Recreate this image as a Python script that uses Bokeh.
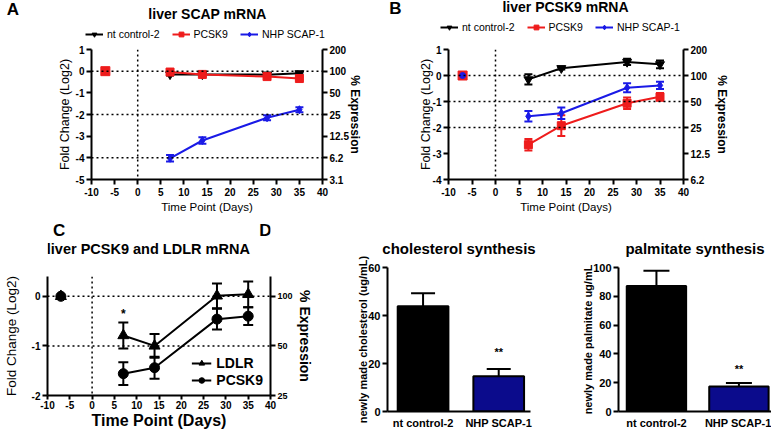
from bokeh.plotting import figure
from bokeh.models import (ColumnDataSource, Range1d, LinearAxis, FixedTicker, Whisker, TeeHead,
                          Span, Legend, LegendItem)
from bokeh.layouts import row, column
from bokeh.embed import file_html
from bokeh.resources import INLINE
from bokeh.core.properties import value

FONT = "Liberation Sans"
NAN = float("nan")

# ---------------- data ----------------
days = [7, 14, 28, 35]
baseline_day = [-7]
baseline_val = [0]
x_ticks = [-10, -5, 0, 5, 10, 15, 20, 25, 30, 35, 40]
x_tick_labels = ["-10", "-5", "0", "5", "10", "15", "20", "25", "30", "35", "40"]

series_names = ["nt control-2", "PCSK9", "NHP SCAP-1"]

a_nt = [-0.15, -0.15, -0.16, -0.10]
a_nt_err = [0.05, 0.04, 0.05, 0.05]
a_pcsk9 = [-0.04, -0.15, -0.25, -0.34]
a_pcsk9_err = [0.05, 0.04, 0.05, 0.06]
a_scap = [-4.02, -3.20, -2.15, -1.78]
a_scap_err = [0.15, 0.15, 0.12, 0.12]
a_left_ticks = [1, 0, -1, -2, -3, -4, -5]
a_left_labels = ["1", "0", "-1", "-2", "-3", "-4", "-5"]
a_right_labels = ["200", "100", "50", "25", "12.5", "6.2", "3.1"]
a_dotted = [0, -2, -4]

b_nt = [-0.15, 0.28, 0.52, 0.43]
b_nt_err = [0.20, 0.05, 0.12, 0.15]
b_pcsk9 = [-2.66, -1.93, -1.07, -0.82]
b_pcsk9_err = [0.22, 0.40, 0.22, 0.15]
b_scap = [-1.57, -1.45, -0.47, -0.38]
b_scap_err = [0.20, 0.22, 0.17, 0.14]
b_left_ticks = [1, 0, -1, -2, -3, -4]
b_left_labels = ["1", "0", "-1", "-2", "-3", "-4"]
b_right_labels = ["200", "100", "50", "25", "12.5", "6.2"]
b_dotted = [0, -1, -2]

c_names = ["LDLR", "PCSK9"]
c_ldlr = [-0.79, -1.00, 0.01, 0.04]
c_ldlr_err = [0.26, 0.24, 0.25, 0.26]
c_pcsk9 = [-1.56, -1.44, -0.46, -0.40]
c_pcsk9_err = [0.23, 0.22, 0.21, 0.18]
c_left_ticks = [0, -1, -2]
c_left_labels = ["0", "-1", "-2"]
c_right_labels = ["100", "50", "25"]
c_dotted = [0, -1]
c_star_day = [7]
c_star_y = [-0.36]

d_groups = ["nt control-2", "NHP SCAP-1"]
d_colors = ["#000000", "#0b0b8c"]
d_chol = [43.9, 14.7]
d_chol_err = [5.4, 3.0]
d_chol_sig = ["", "**"]
d_chol_sig_y = [0, 25]
d_palm = [87.1, 17.3]
d_palm_err = [10.7, 2.5]
d_palm_sig = ["", "**"]
d_palm_sig_y = [0, 29.5]
d_chol_ticks = [0, 20, 40, 60]
d_palm_ticks = [0, 20, 40, 60, 80, 100]

RED = "#ee1c1c"
BLUE = "#1a1ae6"


# ---------------- helpers ----------------
def base_fig(width, height, fl, fr, ft, fb, x_range, y_range):
    p = figure(width=width, height=height, x_range=x_range, y_range=y_range,
               output_backend="svg", toolbar_location=None,
               min_border_left=fl, min_border_right=width - fr,
               min_border_top=ft, min_border_bottom=height - fb)
    p.xgrid.visible = False
    p.ygrid.visible = False
    p.outline_line_color = None
    return p


def header(width, height):
    h = figure(width=width, height=height, x_range=Range1d(0, width),
               y_range=Range1d(height, 0), output_backend="svg", toolbar_location=None,
               x_axis_location=None, y_axis_location=None, min_border=0)
    h.xgrid.visible = False
    h.ygrid.visible = False
    h.outline_line_color = None
    return h


def htext(h, xs, ys, texts, size, style="bold"):
    h.text(xs, ys, text=texts, text_font=value(FONT), text_font_size=f"{size}px",
           text_font_style=style, text_align="center", text_baseline="middle",
           text_color="black")


def style_axis(ax, tick_size, label_size, label_style="normal", tick_out=5,
               standoff=2, label_standoff=2, ticks=True):
    ax.axis_line_color = "black"
    ax.axis_line_width = 2
    if ticks:
        ax.major_tick_line_color = "black"
        ax.major_tick_line_width = 2
        ax.major_tick_in = 0
        ax.major_tick_out = tick_out
    else:
        ax.major_tick_line_color = None
        ax.major_tick_in = 0
        ax.major_tick_out = 0
    ax.minor_tick_line_color = None
    ax.major_label_text_font = FONT
    ax.major_label_text_font_size = f"{tick_size}px"
    ax.major_label_text_font_style = "bold"
    ax.major_label_text_color = "black"
    ax.major_label_standoff = standoff
    ax.axis_label_text_font = FONT
    ax.axis_label_text_font_size = f"{label_size}px"
    ax.axis_label_text_font_style = label_style
    ax.axis_label_text_color = "black"
    ax.axis_label_standoff = label_standoff


def dotted(p, levels):
    for lv in levels:
        p.add_layout(Span(location=lv, dimension="width", line_color="black",
                          line_width=1.5, line_dash="2 3"))
    p.add_layout(Span(location=0, dimension="height", line_color="black",
                      line_width=1.5, line_dash="2 3"))


def series(p, xs, ys, errs, color, marker, size, cap=8):
    src = ColumnDataSource(dict(x=xs, y=ys,
                                lo=[y - e for y, e in zip(ys, errs)],
                                hi=[y + e for y, e in zip(ys, errs)]))
    p.add_layout(Whisker(source=src, base="x", lower="lo", upper="hi",
                         line_color=color, line_width=2,
                         upper_head=TeeHead(size=cap, line_color=color, line_width=2),
                         lower_head=TeeHead(size=cap, line_color=color, line_width=2)))
    lr = p.line("x", "y", source=src, line_color=color, line_width=2)
    mr = p.scatter("x", "y", source=src, marker=marker, size=size,
                   fill_color=color, line_color=color)
    return [lr, mr]


def line_panel(width, height, fl, fr, ft, fb, y_lo, y_hi, left_ticks, left_labels,
               right_labels, tick_size, xlab_size, xlab_style, ylab_size, rlab_size,
               x_std=3, x_lab_std=2, y_lab_std=4, r_lab_std=2):
    p = base_fig(width, height, fl, fr, ft, fb, Range1d(-10, 40), Range1d(y_lo, y_hi))
    p.xaxis.ticker = FixedTicker(ticks=x_ticks)
    p.xaxis.major_label_overrides = {t: s for t, s in zip(x_ticks, x_tick_labels)}
    p.yaxis.ticker = FixedTicker(ticks=left_ticks)
    p.yaxis.major_label_overrides = {t: s for t, s in zip(left_ticks, left_labels)}
    p.xaxis.axis_label = "Time Point (Days)"
    p.yaxis.axis_label = "Fold Change (Log2)"
    style_axis(p.xaxis[0], tick_size, xlab_size, xlab_style, standoff=x_std,
               label_standoff=x_lab_std)
    style_axis(p.yaxis[0], tick_size, ylab_size, "normal", standoff=2,
               label_standoff=y_lab_std)
    ra = LinearAxis(ticker=FixedTicker(ticks=left_ticks),
                    major_label_overrides={t: s for t, s in zip(left_ticks, right_labels)},
                    axis_label="% Expression")
    style_axis(ra, tick_size, rlab_size, "bold", standoff=2, label_standoff=r_lab_std)
    p.add_layout(ra, "right")
    return p


def legend_renderers(h, specs):
    out = []
    for color, marker, size in specs:
        lr = h.line([NAN], [NAN], line_color=color, line_width=2)
        mr = h.scatter([NAN], [NAN], marker=marker, size=size, fill_color=color,
                       line_color=color)
        out.append([lr, mr])
    return out


# ---------------- top header (titles + legends) ----------------
TOP_H = 40
hTop = header(771, TOP_H)
htext(hTop, [12.5, 395], [9, 8], ["A", "B"], 17)
htext(hTop, [207, 565], [13, 6.5], ["liver SCAP mRNA", "liver PCSK9 mRNA"], 14)
leg_specs = [("black", "inverted_triangle", 9), (RED, "square", 8), (BLUE, "diamond", 8)]
for loc in [(85, 0), (440, 7)]:
    rends = legend_renderers(hTop, leg_specs)
    hTop.add_layout(Legend(items=[LegendItem(label=n, renderers=r)
                                  for n, r in zip(series_names, rends)],
                           orientation="horizontal", location=loc,
                           border_line_color=None, background_fill_alpha=0,
                           label_text_font=FONT, label_text_font_size="10.5px",
                           label_text_color="black",
                           glyph_width=18, glyph_height=12, label_height=12,
                           label_standoff=4, spacing=12, padding=0, margin=0))

# ---------------- panel A ----------------
pA = line_panel(385, 175, 91, 322, 49 - TOP_H, 179 - TOP_H, -5, 1, a_left_ticks, a_left_labels,
                a_right_labels, 10, 11.5, "normal", 12.5, 12, y_lab_std=1, r_lab_std=-4)
dotted(pA, a_dotted)
series(pA, days, a_nt, a_nt_err, "black", "inverted_triangle", 9)
series(pA, days, a_pcsk9, a_pcsk9_err, RED, "square", 8)
series(pA, days, a_scap, a_scap_err, BLUE, "diamond", 8)
pA.scatter(baseline_day, baseline_val, marker="square", size=9, fill_color=RED, line_color=RED)

# ---------------- panel B ----------------
pB = line_panel(386, 175, 63, 298, 47 - TOP_H, 179 - TOP_H, -4, 1, b_left_ticks, b_left_labels,
                b_right_labels, 10, 11.5, "normal", 12.5, 12, y_lab_std=-3, r_lab_std=2)
dotted(pB, b_dotted)
series(pB, days, b_nt, b_nt_err, "black", "inverted_triangle", 9)
series(pB, days, b_pcsk9, b_pcsk9_err, RED, "square", 8)
series(pB, days, b_scap, b_scap_err, BLUE, "diamond", 8)
pB.scatter(baseline_day, baseline_val, marker="square", size=9, fill_color=RED, line_color=RED)
pB.scatter(baseline_day, baseline_val, marker="circle", size=6, fill_color=BLUE, line_color=BLUE)

# ---------------- panel C ----------------
C_W = 345
C_H = 46
hC = header(C_W, C_H)
htext(hC, [18, 337], [15, 15], ["C", "D"], 17)
htext(hC, [156], [33], ["liver PCSK9 and LDLR mRNA"], 14.5)

pC = line_panel(C_W, 216 - C_H, 47, 270, 276 - 215 - C_H, 398 - 215 - C_H, -2, 0.4,
                c_left_ticks, c_left_labels, c_right_labels, 10, 16, "bold", 13.5, 14,
                x_std=1, x_lab_std=0, y_lab_std=10, r_lab_std=1)
pC.xaxis[0].major_tick_out = 4
pC.yaxis[1].major_label_text_font_size = "9px"
dotted(pC, c_dotted)
rc_ld = series(pC, days, c_ldlr, c_ldlr_err, "black", "triangle", 11, cap=10)
rc_pc = series(pC, days, c_pcsk9, c_pcsk9_err, "black", "circle", 10, cap=10)
pC.scatter(baseline_day, baseline_val, marker="circle", size=10, color="black")
pC.scatter(baseline_day, baseline_val, marker="triangle", size=11, color="black")
pC.text(c_star_day, c_star_y, text=["*"], text_font=value(FONT), text_font_size="12px",
        text_font_style="bold", text_align="center", text_baseline="middle", text_color="black")
pC.add_layout(Legend(items=[LegendItem(label=n, renderers=r)
                            for n, r in zip(c_names, [rc_ld, rc_pc])],
                     location="bottom_right", border_line_color=None, background_fill_alpha=0,
                     label_text_font=FONT, label_text_font_size="14px",
                     label_text_font_style="bold", label_text_color="black",
                     glyph_width=20, glyph_height=14, label_height=14, label_standoff=5,
                     spacing=1, padding=0, margin=7))

# ---------------- panel D ----------------
d_pos = [i + 1 for i in range(len(d_groups))]


def make_bar(width, fl, fr, ft, x_lo, x_hi, y_hi, vals, errs, ticks, ylabel, sig, sig_y,
             cap, bar_w, title, title_standoff):
    p = base_fig(width, 216, fl, fr, ft, 199, Range1d(x_lo, x_hi), Range1d(0, y_hi))
    p.title.text = title
    p.title.align = "center"
    p.title.text_font = FONT
    p.title.text_font_size = "15px"
    p.title.text_font_style = "bold"
    p.title.text_color = "black"
    p.title.standoff = title_standoff
    src = ColumnDataSource(dict(x=d_pos, top=vals, color=d_colors,
                                hi=[v + e for v, e in zip(vals, errs)]))
    p.add_layout(Whisker(source=src, base="x", lower="top", upper="hi",
                         line_color="black", line_width=2, lower_head=None,
                         upper_head=TeeHead(size=cap, line_color="black", line_width=2)))
    p.vbar(x="x", top="top", width=bar_w, source=src, fill_color="color",
           line_color="black", line_width=2)
    p.text(d_pos, sig_y, text=sig, text_font=value(FONT), text_font_size="11px",
           text_font_style="bold", text_align="center", text_baseline="middle",
           text_color="black")
    p.xaxis.ticker = FixedTicker(ticks=d_pos)
    p.xaxis.major_label_overrides = {x: g for x, g in zip(d_pos, d_groups)}
    p.yaxis.ticker = FixedTicker(ticks=ticks)
    p.yaxis.axis_label = ylabel
    style_axis(p.xaxis[0], 11, 11, "bold", standoff=5, ticks=False)
    style_axis(p.yaxis[0], 11, 11, "bold", standoff=2, label_standoff=-4)
    return p


pD1 = make_bar(215, 42, 185, 51, 0.53, 2.42, 60, d_chol, d_chol_err, d_chol_ticks,
               "newly made cholesterol (ug/mL)", d_chol_sig, d_chol_sig_y, 24, 0.67,
               "cholesterol synthesis", 21)
pD2 = make_bar(211, 58, 211, 52, 0.54, 2.395, 100, d_palm, d_palm_err, d_palm_ticks,
               "newly made palmitate ug/mL", d_palm_sig, d_palm_sig_y, 26, 0.72,
               "palmitate synthesis", 22)

layout = column(column(hTop, row(pA, pB)), row(column(hC, pC), pD1, pD2))

open("out.html", "w").write(file_html(layout, INLINE))
